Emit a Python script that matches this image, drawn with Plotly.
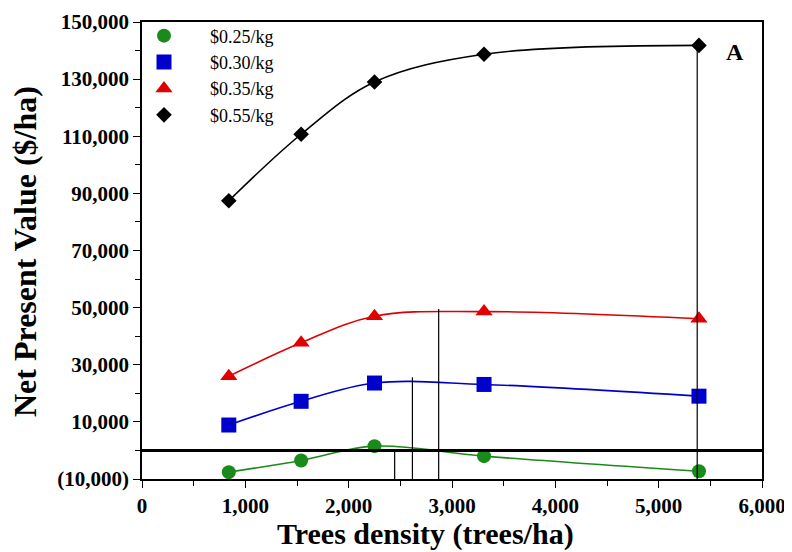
import plotly.graph_objects as go

density = [840, 1540, 2250, 3310, 5390]
npv_025 = [-7600, -3500, 1500, -2000, -7300]
npv_030 = [8900, 17200, 23600, 23100, 19000]
npv_035 = [26000, 37700, 47000, 48600, 46100]
npv_055 = [87400, 110700, 129000, 138700, 141800]

series_names = ["$0.25/kg", "$0.30/kg", "$0.35/kg", "$0.55/kg"]
series_values = [npv_025, npv_030, npv_035, npv_055]
colors = ["#1a8a1a", "#0000cc", "#e00000", "#000000"]
symbols = ["circle", "square", "triangle-up", "diamond"]
marker_sizes = [14, 15, 15, 12]

optimum_density = [2445, 2617, 2871, 5373]
optimum_npv = [0, 25600, 49500, 141800]

y_ticks = [-10000, 10000, 30000, 50000, 70000, 90000, 110000, 130000, 150000]
y_ticklabels = ["(10,000)", "10,000", "30,000", "50,000", "70,000", "90,000",
                "110,000", "130,000", "150,000"]
x_ticks = [0, 1000, 2000, 3000, 4000, 5000, 6000]
x_ticklabels = ["0", "1,000", "2,000", "3,000", "4,000", "5,000", "6,000"]

SERIF = "Liberation Serif, Times New Roman, serif"

# page body has an 8px margin; figure is sized to fit the 792x552 window
OFF = 8
W, H = 792 - OFF, 552 - OFF
L, R, T, B = 142 - OFF, 762 - OFF, 22 - OFF, 479 - OFF
PW, PH = R - L, B - T

fig = go.Figure()

for name, vals, c, sym, ms in zip(series_names, series_values, colors, symbols, marker_sizes):
    fig.add_trace(go.Scatter(
        x=density, y=vals, mode="lines", line=dict(color=c, width=1.6, shape="spline"),
        showlegend=False, hoverinfo="skip"))
    fig.add_trace(go.Scatter(
        x=density, y=vals, mode="markers", name=name,
        marker=dict(color=c, symbol=sym, size=ms, line=dict(width=0))))

shapes = []
for xv, yv in zip(optimum_density, optimum_npv):
    shapes.append(dict(type="line", xref="x", yref="y", x0=xv, x1=xv, y0=-10000, y1=yv,
                       line=dict(color="black", width=1.2)))
shapes.append(dict(type="line", xref="paper", yref="y", x0=0, x1=1, y0=0, y1=0,
                   line=dict(color="black", width=3)))

fig.update_layout(
    width=W, height=H,
    margin=dict(l=L, r=W - R, t=T, b=H - B, autoexpand=False),
    paper_bgcolor="white", plot_bgcolor="white",
    shapes=shapes,
    showlegend=True,
    legend=dict(x=-24 / PW, y=1.01, xanchor="left", yanchor="top", itemwidth=82,
                bgcolor="rgba(0,0,0,0)", font=dict(family=SERIF, size=18, color="black"),
                tracegroupgap=0, itemsizing="trace"),
    xaxis=dict(range=[0, 6000], tickmode="array", tickvals=x_ticks, ticktext=x_ticklabels,
               automargin=False,
               showgrid=False, zeroline=False, showline=True, linecolor="black", linewidth=1.5,
               mirror=True, ticks="outside", ticklen=7, tickcolor="black",
               minor=dict(dtick=500, ticks="outside", ticklen=5, tickcolor="black"),
               tickfont=dict(family=SERIF, size=21, color="black", weight="bold")),
    yaxis=dict(range=[-10000, 150000], tickmode="array", tickvals=y_ticks, ticktext=y_ticklabels,
               automargin=False,
               showgrid=False, zeroline=False, showline=True, linecolor="black", linewidth=1.5,
               mirror=True, ticks="outside", ticklen=7, tickcolor="black",
               minor=dict(tickvals=[0, 20000, 40000, 60000, 80000, 100000, 120000, 140000],
                          ticks="outside", ticklen=5, tickcolor="black"),
               tickfont=dict(family=SERIF, size=21, color="black", weight="bold")),
    annotations=[
        dict(text="<b>Trees density (trees/ha)</b>", xref="paper", yref="paper",
             x=(425 - 142) / PW, y=-(534 - 479) / PH, xanchor="center", yanchor="middle",
             showarrow=False, font=dict(family=SERIF, size=30, color="black")),
        dict(text="<b>Net Present Value ($/ha)</b>", xref="paper", yref="paper",
             x=-(142 - 25) / PW, y=(479 - 252) / PH, xanchor="center", yanchor="middle",
             showarrow=False, textangle=-90, font=dict(family=SERIF, size=32, color="black")),
        dict(text="<b>A</b>", xref="paper", yref="paper", x=(735 - 142) / PW, y=(479 - 52) / PH,
             xanchor="center", yanchor="middle", showarrow=False,
             font=dict(family=SERIF, size=24, color="black")),
    ],
)

fig.write_html("out.html")
